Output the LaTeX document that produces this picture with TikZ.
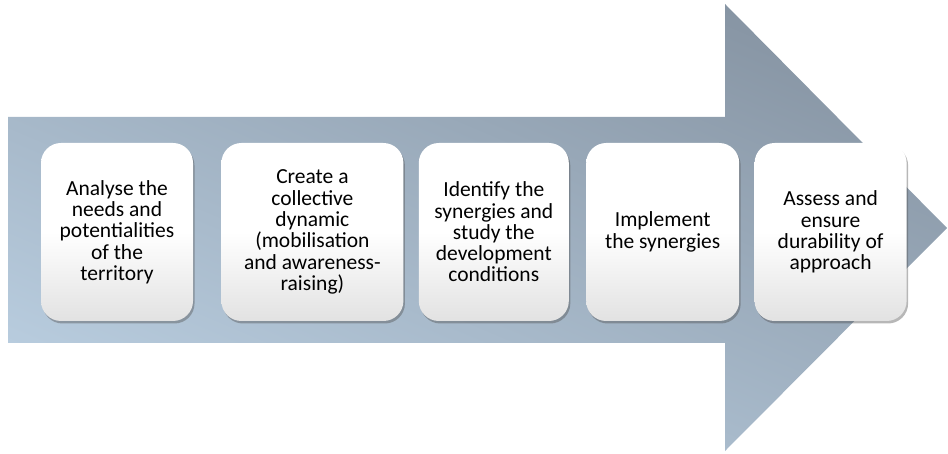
\documentclass[tikz,border=0pt]{standalone}
\usepackage{fontspec}
\setmainfont{Carlito}
\usetikzlibrary{
positioning,
shadows,
}
\definecolor{arrowdark}{HTML}{798593}
\definecolor{arrowlight}{HTML}{C7DDF0}
\definecolor{stagegray}{HTML}{E2E2E2}
\tikzset{
x=1pt, y=-1pt,
every node/.style={align=center},
bigarrow/.style={top color=arrowdark, bottom color=arrowlight, shading angle=-23},
stage/.style={rounded corners=20pt, minimum height=178pt, inner sep=0pt,
  top color=white, bottom color=stagegray, middle color=white,
  font=\fontsize{21.5}{21.3}\selectfont,
  drop shadow={shadow xshift=1.5pt, shadow yshift=-2.5pt, fill=black!70, opacity=0.4}},
}
\begin{document}
\begin{tikzpicture}
\useasboundingbox (0,0) rectangle (948,454);
% the arrow behind the stages
\begin{scope}
\clip (8,117) -- (725,117) -- (725,4) -- (947,228)
    -- (725,451) -- (725,343) -- (8,343) -- cycle;
\shade[bigarrow] (0,-247) rectangle (948,701);
\end{scope}
\node (analyse) [stage, minimum width=152pt] at (117,232)
    {Analyse the\\needs and\\potentialities\\of the\\territory};
\node (create) [stage, minimum width=182pt, right=28pt of analyse]
    {Create a\\collective\\dynamic\\(mobilisation\\and awareness-\\raising)};
\node (identify) [stage, minimum width=150pt, right=15pt of create]
    {Identify the\\synergies and\\study the\\development\\conditions};
\node (implement) [stage, minimum width=153pt, right=17pt of identify]
    {Implement\\the synergies};
\node (assess) [stage, minimum width=152pt, right=15pt of implement]
    {Assess and\\ensure\\durability of\\approach};
\end{tikzpicture}
\end{document}
